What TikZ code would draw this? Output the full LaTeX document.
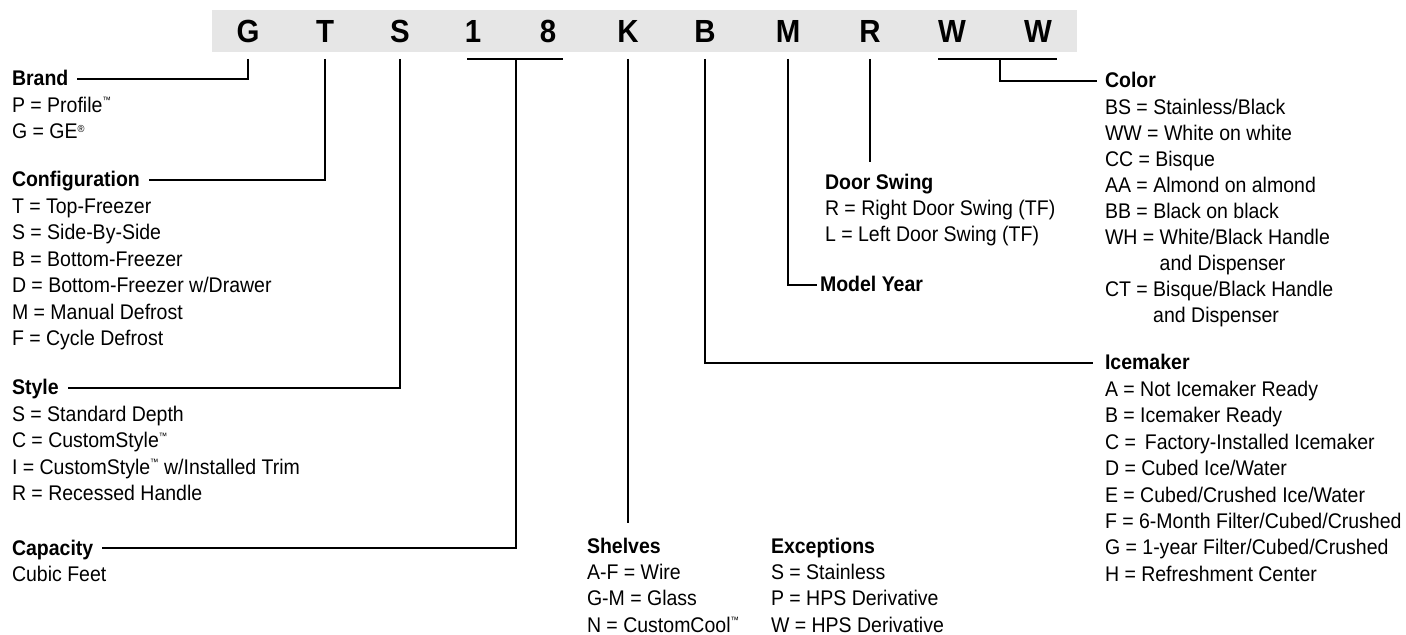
\documentclass[tikz,border=0pt]{standalone}
\usepackage{fontspec}
\setmainfont{Liberation Sans}[FakeStretch=0.92]
\newcommand\tmk{\raisebox{4.2pt}{\fontsize{4.6}{5}\selectfont ™}}
\newcommand\regk{\raisebox{3.3pt}{\fontsize{5.1}{5}\selectfont ®}}
\definecolor{barg}{HTML}{E6E6E6}
\begin{document}
\begin{tikzpicture}[x=0.5pt,y=-0.5pt,
 every node/.style={inner sep=0pt, outer sep=0pt},
 txt/.style={anchor=base west, font=\fontsize{10.6}{12}\selectfont},
 hdr/.style={anchor=base west, font=\fontsize{10.6}{12}\selectfont\bfseries},
 letter/.style={anchor=base, font=\fontsize{16}{18}\selectfont\bfseries},
 conn/.style={line width=1.15pt},
]
\useasboundingbox (0,0) rectangle (1406,635);
\fill[barg] (212,10) rectangle (1077,52);

% model letters
\node[letter] (lG) at (248,43) {G};
\node[letter] (lT) at (325,43) {T};
\node[letter] (lS) at (400,43) {S};
\node[letter] (l1) at (473,43) {1};
\node[letter] (l8) at (548,43) {8};
\node[letter] (lK) at (628,43) {K};
\node[letter] (lB) at (705,43) {B};
\node[letter] (lM) at (788,43) {M};
\node[letter] (lR) at (870,43) {R};
\node[letter] (lW1) at (952,43) {W};
\node[letter] (lW2) at (1038,43) {W};

\coordinate (top) at (0,59);

% headers
\node[hdr] (brand) at (12,86) {Brand};
\node[hdr] (config) at (12,187) {Configuration};
\node[hdr] (style) at (12,395) {Style};
\node[hdr] (capacity) at (12,555) {Capacity};
\node[hdr] (shelves) at (587,553) {Shelves};
\node[hdr] (except) at (771,553) {Exceptions};
\node[hdr] (door) at (825,190) {Door Swing};
\node[hdr] (year) at (820,292) {Model Year};
\node[hdr] (color) at (1105,88) {Color};
\node[hdr] (ice) at (1105,370) {Icemaker};

% lists
\foreach \t [count=\i] in {{P = Profile\tmk}, {G = GE\regk}}
  \node[txt] (brand-\i) at (12,86+\i*26.4) {\t};
\foreach \t [count=\i] in {{T = Top-Freezer}, {S = Side-By-Side}, {B = Bottom-Freezer}, {D = Bottom-Freezer w/Drawer}, {M = Manual Defrost}, {F = Cycle Defrost}}
  \node[txt] (config-\i) at (12,187+\i*26.5) {\t};
\foreach \t [count=\i] in {{S = Standard Depth}, {C = CustomStyle\tmk}, {I = CustomStyle\tmk{} w/Installed Trim}, {R = Recessed Handle}}
  \node[txt] (style-\i) at (12,395+\i*26.4) {\t};
\node[txt] (capacity-1) at (12,581) {Cubic Feet};
\foreach \t [count=\i] in {{A-F = Wire}, {G-M = Glass}, {N = CustomCool\tmk}}
  \node[txt] (shelves-\i) at (587,553+\i*26.4) {\t};
\foreach \t [count=\i] in {{S = Stainless}, {P = HPS Derivative}, {W = HPS Derivative}}
  \node[txt] (except-\i) at (771,553+\i*26.4) {\t};
\foreach \t [count=\i] in {{R = Right Door Swing (TF)}, {L = Left Door Swing (TF)}}
  \node[txt] (door-\i) at (825,190+\i*26) {\t};
\foreach \t [count=\i] in {{BS = Stainless/Black}, {WW = White on white}, {CC = Bisque}, {AA = Almond on almond}, {BB = Black on black}, {WH = White/Black Handle}, {\phantom{WH = }and Dispenser}, {CT = Bisque/Black Handle}, {\phantom{CT = }and Dispenser}}
  \node[txt] (color-\i) at (1105,88+\i*26.1) {\t};
\foreach \t [count=\i] in {{A = Not Icemaker Ready}, {B = Icemaker Ready}, {C = \,Factory-Installed Icemaker}, {D = Cubed Ice/Water}, {E = Cubed/Crushed Ice/Water}, {F = 6-Month Filter/Cubed/Crushed}, {G = 1-year Filter/Cubed/Crushed}, {H = Refreshment Center}}
  \node[txt] (ice-\i) at (1105,370+\i*26.4) {\t};

% connectors
\coordinate (c18a) at (467,59);
\coordinate (c18b) at (563,59);
\coordinate (c18m) at (516,59);
\coordinate (cWa) at (938,59);
\coordinate (cWb) at (1057,59);
\coordinate (cWm) at (1000,59);
\coordinate (kend) at (628,523);
\coordinate (rend) at (870,162);

\draw[conn] (lG |- top) |- ([shift={(9,-7)}]brand.base east);
\draw[conn] (lT |- top) |- ([shift={(9,-7)}]config.base east);
\draw[conn] (lS |- top) |- ([shift={(9,-7)}]style.base east);
\draw[conn] (c18a) -- (c18b);
\draw[conn] (c18m) |- ([shift={(9,-7)}]capacity.base east);
\draw[conn] (lK |- top) -- (kend);
\draw[conn] (lB |- top) |- ([shift={(-12,-7)}]ice.base west);
\draw[conn] (lM |- top) |- ([shift={(-3,-7)}]year.base west);
\draw[conn] (lR |- top) -- (rend);
\draw[conn] (cWa) -- (cWb);
\draw[conn] (cWm) |- ([shift={(-8,-7)}]color.base west);
\end{tikzpicture}
\end{document}
